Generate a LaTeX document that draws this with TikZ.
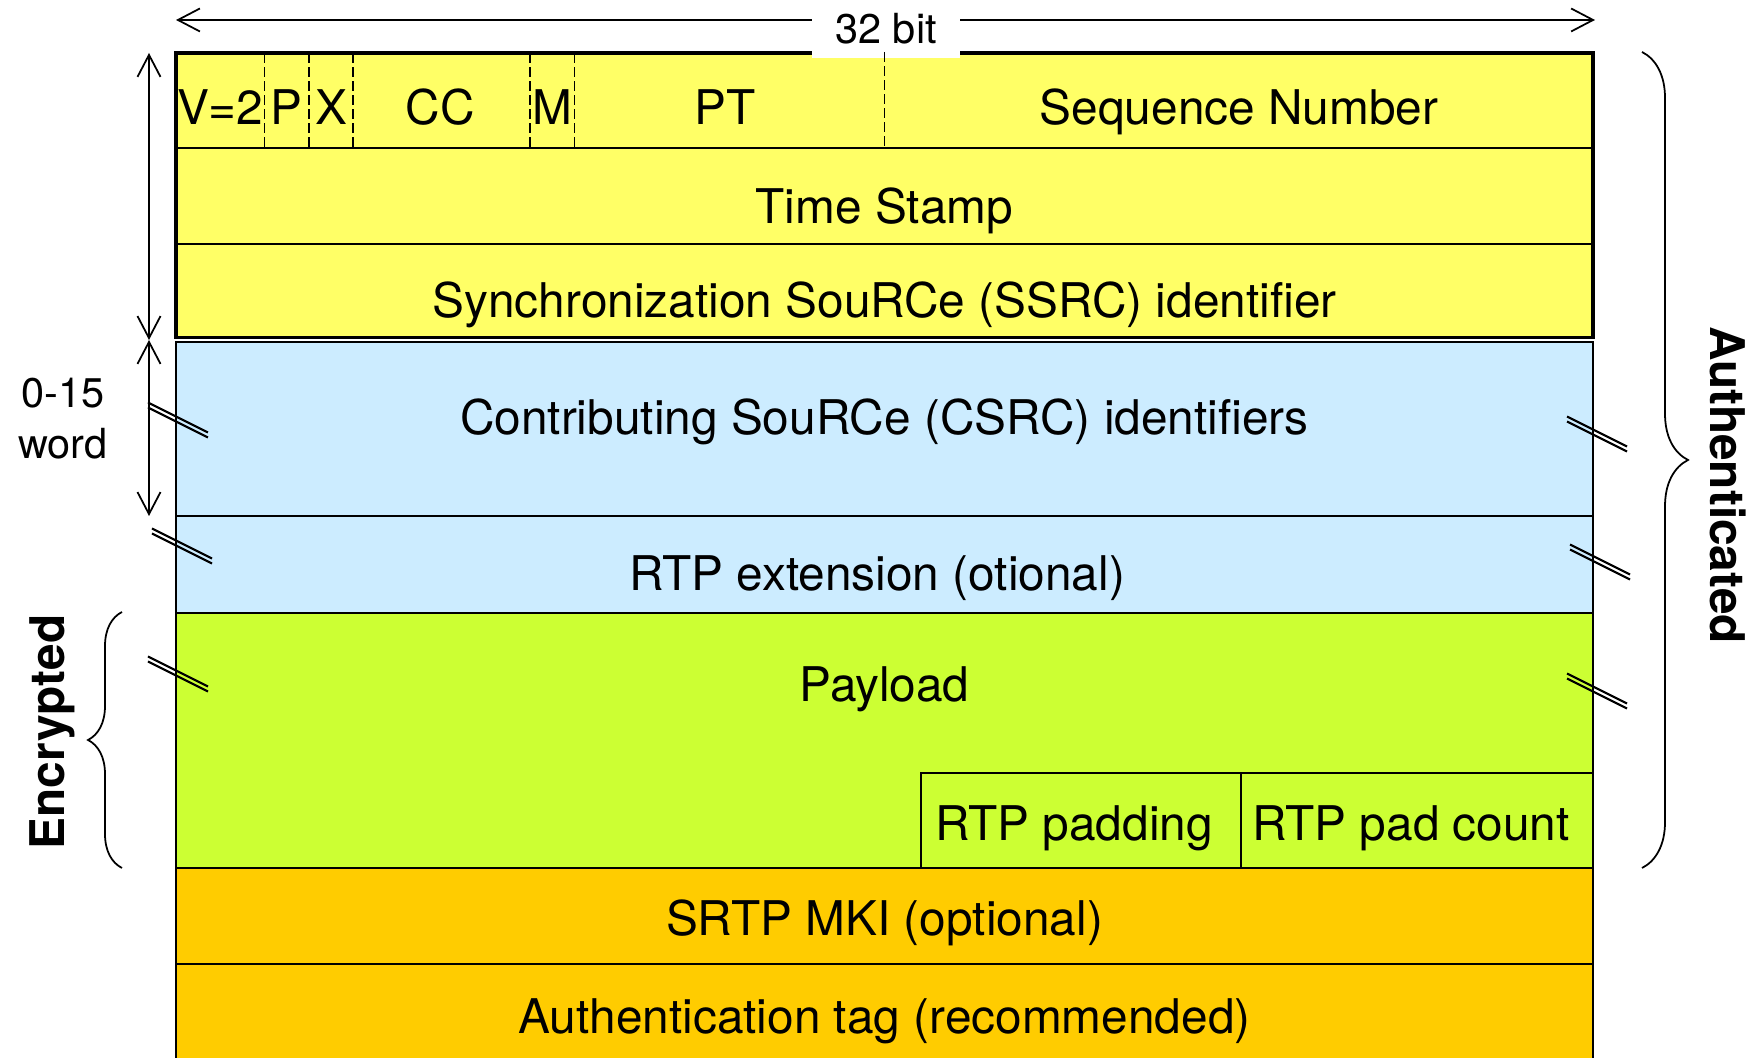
\documentclass[tikz,border=0pt]{standalone}
\usepackage{fontspec}
\setmainfont{TeX Gyre Heros}
\usetikzlibrary{arrows.meta}
\usetikzlibrary{positioning}
\usetikzlibrary{decorations.pathreplacing}

\definecolor{hdryellow}{RGB}{255,255,102}
\definecolor{srcblue}{RGB}{204,236,255}
\definecolor{paygreen}{RGB}{204,255,51}
\definecolor{authorange}{RGB}{255,204,0}

\tikzset{
	lbl/.style={anchor=base,inner sep=0pt,font=\fontsize{13.6}{16}\selectfont},
	small/.style={inner sep=0pt,font=\fontsize{11.8}{14.5}\selectfont},
	side/.style={inner sep=0pt,font=\fontsize{13.6}{16}\selectfont\bfseries},
	field/.style={draw,line width=0.6pt},
	sep/.style={line width=0.5pt,dash pattern=on 2.8pt off 1.2pt},
	dim/.style={line width=0.5pt,{Straight Barb[length=2.2mm,width=2.3mm]}-{Straight Barb[length=2.2mm,width=2.3mm]}},
	brk/.style={line width=0.6pt},
	grp/.style={line width=0.5pt,decorate},
}
% break mark: two short parallel slashes
\newcommand{\brkmark}[2]{%
	\draw[brk] (#1-0.3,#2+0.175) -- (#1+0.3,#2-0.125);
	\draw[brk] (#1-0.3,#2+0.125) -- (#1+0.3,#2-0.175);}

\begin{document}
\begin{tikzpicture}
	\useasboundingbox (0,0) rectangle (17.56,10.57);
	
	%fixed header
	\filldraw[field,fill=hdryellow] (1.76,10.04) rectangle (15.93,9.09);
	\filldraw[field,fill=hdryellow] (1.76,9.09) rectangle (15.93,8.13);
	\filldraw[field,fill=hdryellow] (1.76,8.13) rectangle (15.93,7.195);
	\draw[line width=1pt] (1.76,7.195) rectangle (15.93,10.04);
	\draw[sep] (2.646,10.04) -- (2.646,9.09);
	\draw[sep] (3.088,10.04) -- (3.088,9.09);
	\draw[sep] (3.531,10.04) -- (3.531,9.09);
	\draw[sep] (5.302,10.04) -- (5.302,9.09);
	\draw[sep] (5.745,10.04) -- (5.745,9.09);
	
	%optional parts
	\filldraw[field,fill=srcblue] (1.76,7.15) rectangle (15.93,5.41);
	\filldraw[field,fill=srcblue] (1.76,5.41) rectangle (15.93,4.44);
	\filldraw[field,fill=paygreen] (1.76,4.44) rectangle (15.93,1.89);
	\draw[field] (9.21,2.84) rectangle (12.41,1.89);
	\draw[field] (12.41,2.84) rectangle (15.93,1.89);
	\filldraw[field,fill=authorange] (1.76,1.89) rectangle (15.93,0.93);
	\filldraw[field,fill=authorange] (1.76,0.93) rectangle (15.93,-0.1);
	
	%width
	\coordinate (bitL) at (1.76,10.37);
	\coordinate (bitR) at (15.95,10.37);
	\draw[dim] (bitL) -- (bitR);
	\node[small,fill=white,minimum width=1.48cm,minimum height=0.58cm] (bits) at (8.86,10.28) {32 bit};
	\draw[sep] (8.845,10.05) -- (8.845,9.09);
	
	%field labels
	\node[lbl] (ver) at (2.203,9.32) {V=2};
	\node[lbl] (padbit) at (2.867,9.32) {P};
	\node[lbl] (extbit) at (3.310,9.32) {X};
	\node[lbl] (cc) at (4.40,9.32) {CC};
	\node[lbl] (mark) at (5.524,9.32) {M};
	\node[lbl] (pt) at (7.25,9.32) {PT};
	\node[lbl] (seq) at (12.39,9.32) {Sequence Number};
	\node[lbl] (ts) at (8.845,8.33) {Time Stamp};
	\node[lbl] (ssrc) at (8.845,7.39) {Synchronization SouRCe (SSRC) identifier};
	\node[lbl] (csrc) at (8.845,6.22) {Contributing SouRCe (CSRC) identifiers};
	\node[lbl] (rtpx) at (8.77,4.66) {RTP extension (otional)};
	\node[lbl] (pay) at (8.845,3.55) {Payload};
	\node[lbl] (padd) at (10.74,2.16) {RTP padding};
	\node[lbl] (padc) at (14.11,2.16) {RTP pad count};
	\node[lbl] (mki) at (8.845,1.21) {SRTP MKI (optional)};
	\node[lbl] (tag) at (8.845,0.24) {Authentication tag (recommended)};
	
	%height
	\coordinate (hdrTop) at (1.49,10.04);
	\coordinate (hdrBot) at (1.49,7.17);
	\coordinate (csrcBot) at (1.49,5.41);
	\draw[dim] (hdrTop) -- (hdrBot);
	\draw[dim] (hdrBot) -- (csrcBot);
	\node[small,align=center] (words) at (0.63,6.38) {0-15\\word};
	
	%breaks
	\brkmark{1.78}{6.37}
	\brkmark{1.82}{5.11}
	\brkmark{1.78}{3.83}
	\brkmark{15.97}{6.23}
	\brkmark{16.00}{4.95}
	\brkmark{15.97}{3.66}
	
	%braces
	\draw[grp,decoration={brace,amplitude=0.46cm}] (16.42,10.05) -- (16.42,1.89);
	\node[side,rotate=-90] (auth) at (17.28,5.72) {Authenticated};
	\draw[grp,decoration={brace,amplitude=0.34cm}] (1.22,1.89) -- (1.22,4.45);
	\node[side,rotate=90] (enc) at (0.525,3.25) {Encrypted};
\end{tikzpicture}
\end{document}
